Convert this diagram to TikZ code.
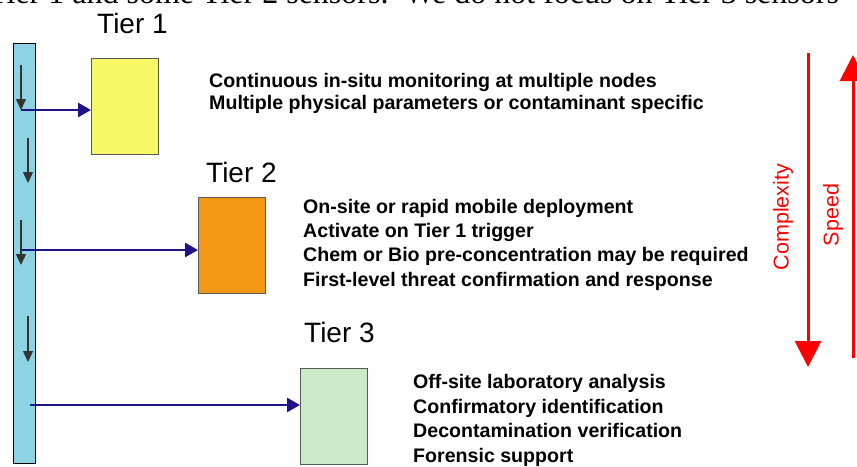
\documentclass[tikz,border=0pt]{standalone}
\usepackage{fontspec}
\setmainfont{Liberation Sans}
\newfontfamily\capfont{Liberation Serif}
\usetikzlibrary{arrows.meta}
\definecolor{barblue}{RGB}{141,211,227}
\definecolor{arrowblue}{RGB}{30,20,135}
\definecolor{tyellow}{RGB}{248,248,102}
\definecolor{torange}{RGB}{244,151,20}
\definecolor{tgreen}{RGB}{203,235,200}
\begin{document}
\begin{tikzpicture}[x=1pt,y=-1pt,
  tierbox/.style={draw=black!65, line width=0.9pt, minimum width=67pt, minimum height=96pt, inner sep=0pt, anchor=north west},
  tierlabel/.style={anchor=base west, inner sep=0pt, font=\fontsize{28}{30}\selectfont},
  bodytext/.style={anchor=base west, inner sep=0pt, font=\fontsize{19.6}{22}\selectfont\bfseries},
  feed/.style={draw=arrowblue, line width=2.7pt, -{Triangle[width=14pt,length=13pt]}},
  flow/.style={draw=black!80, line width=1.4pt, -{Triangle[width=10pt,length=11pt]}},
  redarrow/.style={draw=red, line width=3pt, -{Triangle[width=26pt,length=26pt]}},
  redlabel/.style={text=red, rotate=90, inner sep=0pt, font=\fontsize{21.5}{24}\selectfont}
]
\useasboundingbox (0,0) rectangle (857,466);
% clipped caption line from the page above
\node[anchor=base west, inner sep=0pt, font=\capfont\fontsize{32}{34}\selectfont] (caption) at (-12,3) {Tier 1 and some Tier 2 sensors.\ \ We do not focus on Tier 3 sensors};

% vertical bar
\node[draw=black, line width=0.8pt, fill=barblue, minimum width=22pt, minimum height=420pt, inner sep=0pt, anchor=north west] (bar) at (13,43) {};

% tier boxes
\node[tierbox, fill=tyellow] (box1) at (91,58) {};
\node[tierbox, fill=torange] (box2) at (198,197) {};
\node[tierbox, fill=tgreen] (box3) at (300,368) {};

% tier labels
\node[tierlabel] (t1) at (97,33) {Tier 1};
\node[tierlabel] (t2) at (206,182) {Tier 2};
\node[tierlabel] (t3) at (304,342) {Tier 3};

% small flow arrows inside bar
\coordinate (f1a) at (21,65);  \coordinate (f1b) at (21,110);
\coordinate (f2a) at (28,138); \coordinate (f2b) at (28,183);
\coordinate (f3a) at (21,220); \coordinate (f3b) at (21,265);
\coordinate (f4a) at (28,316); \coordinate (f4b) at (28,362);
\draw[flow] (f1a) -- (f1b);
\draw[flow] (f2a) -- (f2b);
\draw[flow] (f3a) -- (f3b);
\draw[flow] (f4a) -- (f4b);

% feed arrows
\coordinate (s1) at (21,110);
\coordinate (s2) at (22,250);
\coordinate (s3) at (30,405);
\draw[feed] (s1) -- (s1 -| box1.west);
\draw[feed] (s2) -- (s2 -| box2.west);
\draw[feed] (s3) -- (s3 -| box3.west);

% tier 1 text
\node[bodytext] (a1) at (209,87) {Continuous in-situ monitoring at multiple nodes};
\node[bodytext] (a2) at (209,109) {Multiple physical parameters or contaminant specific};
% tier 2 text
\node[bodytext] (b1) at (303,213) {On-site or rapid mobile deployment};
\node[bodytext] (b2) at (303,237) {Activate on Tier 1 trigger};
\node[bodytext] (b3) at (303,261.5) {Chem or Bio pre-concentration may be required};
\node[bodytext] (b4) at (303,286) {First-level threat confirmation and response};
% tier 3 text
\node[bodytext] (c1) at (413,388) {Off-site laboratory analysis};
\node[bodytext] (c2) at (413,413) {Confirmatory identification};
\node[bodytext] (c3) at (413,437.5) {Decontamination verification};
\node[bodytext] (c4) at (413,462) {Forensic support};

% complexity / speed
\coordinate (cx1) at (808,53);  \coordinate (cx2) at (808,367);
\coordinate (sp1) at (853,358); \coordinate (sp2) at (853,55);
\draw[redarrow] (cx1) -- (cx2);
\draw[redarrow] (sp1) -- (sp2);
\node[redlabel] (complexity) at (783,217) {Complexity};
\node[redlabel] (speed) at (833,215) {Speed};
\end{tikzpicture}
\end{document}
